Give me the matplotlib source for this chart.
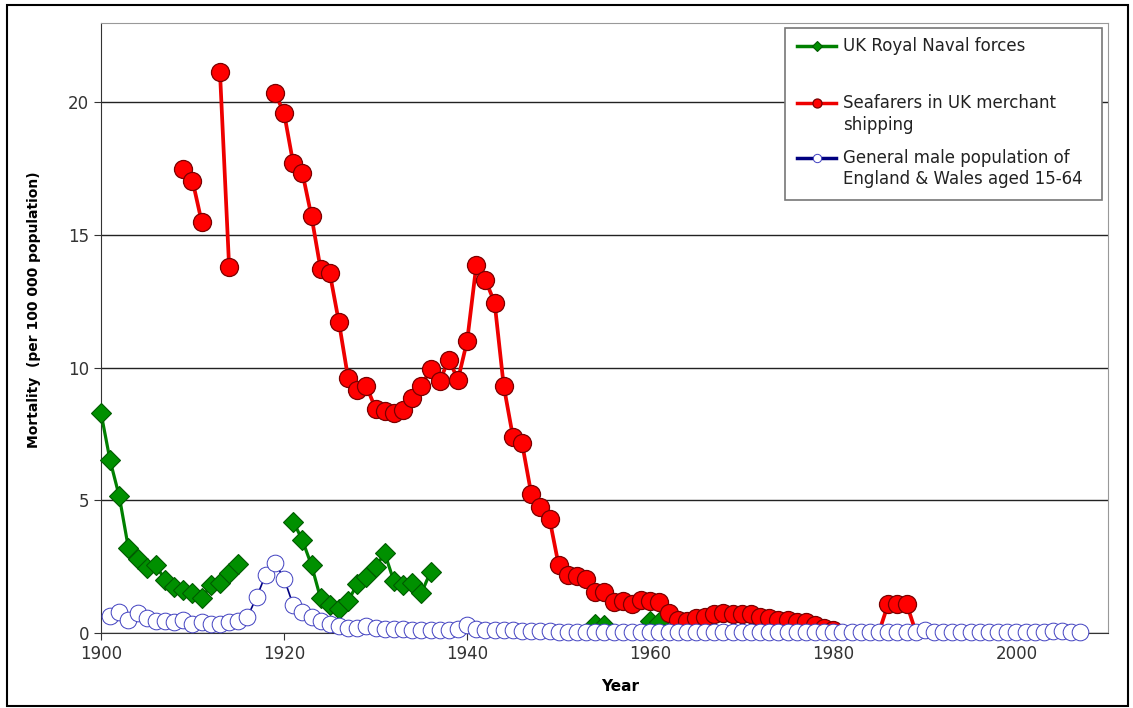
import numpy as np
from matplotlib import pyplot as plt
from matplotlib.patches import Rectangle
from matplotlib.lines import Line2D

nan = np.nan

# UK Royal Naval forces
navyYears = list(range(1900, 1916)) + [nan] + list(range(1921, 1937)) + [nan] + [1954, 1955] + [nan] + [1960, 1961]
navyVals = [8.3, 6.5, 5.15, 3.2, 2.8, 2.45, 2.55, 2.0, 1.75, 1.6, 1.5, 1.3, 1.8, 1.9, 2.25, 2.6,
            nan,
            4.2, 3.5, 2.55, 1.3, 1.05, 0.9, 1.2, 1.85, 2.1, 2.5, 3.0, 1.95, 1.8, 1.9, 1.5, 2.3,
            nan,
            0.35, 0.3,
            nan,
            0.45, 0.4]

# Seafarers in UK merchant shipping
merchYears = list(range(1909, 1990))
merchVals = [17.5, 17.05, 15.5, nan, 21.15, 13.8, nan, nan, nan, nan,
             20.35, 19.6, 17.7, 17.35, 15.7, 13.7, 13.55, 11.7, 9.6, 9.15,
             9.3, 8.45, 8.35, 8.3, 8.4, 8.85, 9.3, 9.95, 9.5, 10.3,
             9.55, 11.0, 13.85, 13.3, 12.45, 9.3, 7.4, 7.15, 5.25, 4.75,
             4.3, 2.55, 2.2, 2.15, 2.05, 1.55, 1.55, 1.15, 1.2, 1.1,
             1.25, 1.2, 1.15, 0.75, 0.5, 0.45, 0.55, 0.6, 0.7, 0.75,
             0.7, 0.7, 0.7, 0.6, 0.55, 0.5, 0.5, 0.4, 0.4, 0.3,
             0.2, 0.12, nan, nan, nan, nan, 0.05, 1.1, 1.1, 1.1,
             0.05]

# General male population of England & Wales aged 15-64
genYears = list(range(1901, 2008))
genVals = [0.65, 0.8, 0.5, 0.75, 0.55, 0.45, 0.45, 0.4, 0.5, 0.35,
           0.4, 0.35, 0.35, 0.4, 0.45, 0.6, 1.35, 2.2, 2.65, 2.05,
           1.05, 0.8, 0.6, 0.45, 0.35, 0.25, 0.2, 0.2, 0.25, 0.2,
           0.15, 0.15, 0.15, 0.1, 0.1, 0.1, 0.1, 0.1, 0.15, 0.3,
           0.15, 0.1, 0.1, 0.1, 0.1, 0.08, 0.07, 0.06, 0.06, 0.05,
           0.05, 0.05, 0.05, 0.05, 0.05, 0.05, 0.05, 0.05, 0.05, 0.05,
           0.05, 0.05, 0.05, 0.05, 0.05, 0.05, 0.05, 0.05, 0.05, 0.05,
           0.05, 0.05, 0.05, 0.05, 0.05, 0.05, 0.05, 0.05, 0.05, 0.05,
           0.05, 0.05, 0.05, 0.05, 0.05, 0.05, 0.05, 0.05, 0.05, 0.1,
           0.05, 0.05, 0.05, 0.05, 0.05, 0.05, 0.05, 0.05, 0.05, 0.05,
           0.05, 0.05, 0.05, 0.08, 0.08, 0.05, 0.05]

labels = ['UK Royal Naval forces',
          'Seafarers in UK merchant\nshipping',
          'General male population of\nEngland & Wales aged 15-64']

W, H = 1133, 708


def fx(px):
    return px / W


def fy(py):
    return 1 - py / H


fig = plt.figure(figsize=(11.33, 7.08), dpi=100)
ax = fig.add_axes([0.0891, 0.106, 0.8888, 0.862])

styles = [
    dict(color='#008000', lw=2.3, marker='D', ms=10, mfc='#009000', mec='#005a00', mew=0.8, zorder=3),
    dict(color='#ee0000', lw=2.7, marker='o', ms=13, mfc='#ff0000', mec='#7a0000', mew=0.9, zorder=4),
    dict(color='#000080', lw=1.2, marker='o', ms=12, mfc='white', mec='#4040c0', mew=0.7, zorder=5),
]

ax.plot(navyYears, navyVals, clip_on=False, **styles[0])
# leave the near-zero end points of the merchant series without a marker
merchMark = [not (v < 0.06) for v in merchVals]
ax.plot(merchYears, merchVals, clip_on=False, markevery=merchMark, **styles[1])
ax.plot(genYears, genVals, clip_on=False, **styles[2])

ax.set_xlim(1900, 2010)
ax.set_ylim(0, 23)
ax.set_xticks([1900, 1920, 1940, 1960, 1980, 2000])
ax.set_yticks([0, 5, 10, 15, 20])
ax.yaxis.grid(True, color='#222222', lw=1.0)
ax.set_axisbelow(True)
ax.tick_params(axis='both', labelsize=12, labelcolor='#333333', color='#333333',
               direction='out', length=5)
for side in ['top', 'right']:
    ax.spines[side].set_color('#999999')
for side in ['left', 'bottom']:
    ax.spines[side].set_color('#333333')

ax.set_xlabel('Year', fontsize=11, fontweight='bold')
ax.xaxis.set_label_coords(0.516, -0.075)
ax.set_ylabel('Mortality  (per 100 000 population)', fontsize=10, fontweight='bold')
ax.yaxis.set_label_coords(-0.06, 0.53)

# legend drawn by hand so each handle sits on the first line of its label
fig.patches.append(Rectangle((fx(785), fy(200)), fx(1102) - fx(785), fy(28) - fy(200),
                             transform=fig.transFigure, facecolor='white',
                             edgecolor='#777777', lw=1.2, zorder=10))
for lab, st, yc in zip(labels, styles, [46, 103, 158]):
    s = dict(st)
    s['ms'] = st['ms'] * 0.5
    s['zorder'] = 11
    s['lw'] = 2.5
    fig.add_artist(Line2D([fx(797), fx(816.5), fx(836)], [fy(yc)] * 3,
                          transform=fig.transFigure, markevery=[1], **s))
    fig.text(fx(843), fy(yc - 9), lab, fontsize=12, va='top', ha='left',
             color='#222222', zorder=12, linespacing=1.25)

# outer border of the picture
fig.patches.append(Rectangle((0.006, 0.003), 0.99, 0.99, transform=fig.transFigure,
                             fill=False, edgecolor='black', lw=1.5))

plt.savefig('out.png', dpi=100)
